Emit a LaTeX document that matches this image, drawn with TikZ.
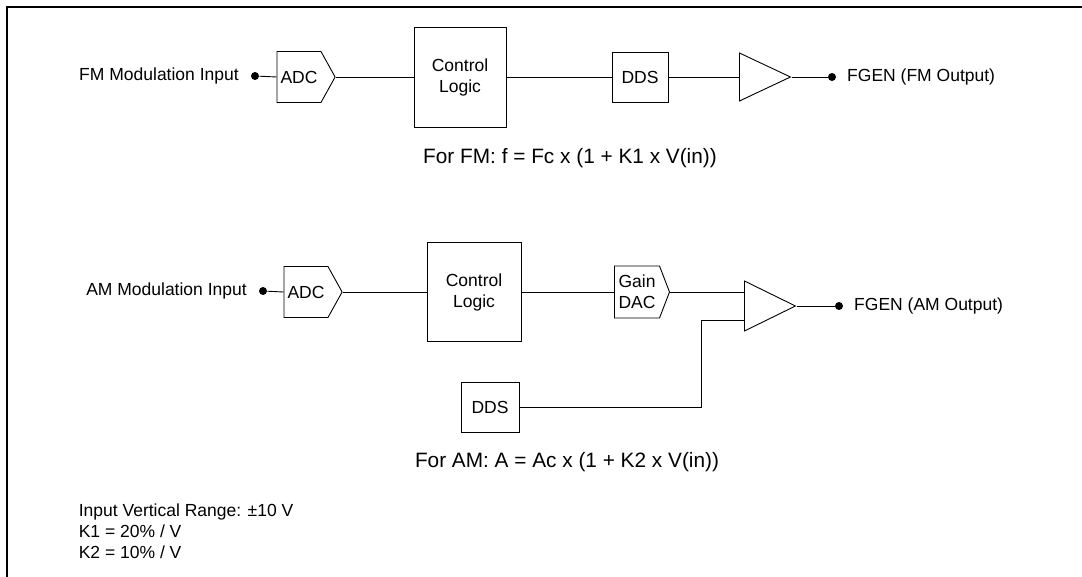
\documentclass[tikz,border=0pt]{standalone}
\usepackage{fontspec}
\setmainfont{Liberation Sans}
\usetikzlibrary{positioning, shapes.geometric, shapes.symbols}

\begin{document}
\begin{tikzpicture}[x=1pt, y=-1pt, line width=0.9pt,
    every node/.style={font=\fontsize{17.5}{21}\selectfont},
    blk/.style={draw, inner sep=0pt},
    conv/.style={draw, signal, signal to=east, inner xsep=3.5pt, inner ysep=2pt, minimum height=51pt, minimum width=54pt, signal pointer angle=122},
    amp/.style={draw, isosceles triangle, isosceles triangle stretches, inner sep=0pt, minimum width=48pt, minimum height=51pt, anchor=west},
    dot/.style={circle, fill, inner sep=0pt, minimum size=8pt},
    formula/.style={font=\fontsize{20.8}{24}\selectfont}]
    \useasboundingbox (0,0) rectangle (1082,577);

    % Cornice
    \draw[line width=2.5pt] (7,577) -- (7,7) -- (1082,7);

    % FM
    \node[dot] (fmin) at (255,76) {};
    \node[left=8pt of fmin] (fmlabel) {FM Modulation Input};
    \node[conv] (adc1) at (299,77) {ADC};
    \node[blk, minimum width=92pt, minimum height=100pt, align=center] (ctl1) at (460,77) {Control\\Logic};
    \node[blk, minimum width=56pt, minimum height=50pt] (dds1) at (640,77) {DDS};
    \node[amp] (amp1) at (739,77) {};
    \node[dot] (fmout) at (832,77) {};
    \node[right=7pt of fmout] (fmoutlabel) {FGEN (FM Output)};
    \node[formula] (fmeq) at (570,158) {For FM: f = Fc x (1 + K1 x V(in))};

    \draw (fmin) -- (adc1.west);
    \draw (adc1.east) -- (ctl1.west);
    \draw (ctl1.east) -- (dds1.west);
    \draw (dds1.east) -- (amp1.west);
    \draw (amp1.apex) -- (fmout);

    % AM
    \node[dot] (amin) at (263,291) {};
    \node[left=8pt of amin] (amlabel) {AM Modulation Input};
    \node[conv, minimum width=56pt] (adc2) at (306,292) {ADC};
    \node[blk, minimum width=94pt, minimum height=99pt, align=center] (ctl2) at (474,292) {Control\\Logic};
    \node[conv, minimum width=55pt, minimum height=52pt, signal pointer angle=138, inner sep=1pt, align=center] (dac) at (637,292) {Gain\\DAC};
    \node[amp, minimum width=50pt] (amp2) at (744,306) {};
    \node[dot] (amout) at (839,306) {};
    \node[right=7pt of amout] (amoutlabel) {FGEN (AM Output)};
    \node[blk, minimum width=58pt, minimum height=50pt] (dds2) at (490,407) {DDS};
    \node[formula] (ameq) at (567,462) {For AM: A = Ac x (1 + K2 x V(in))};

    \draw (amin) -- (adc2.west);
    \draw (adc2.east) -- (ctl2.west);
    \draw (ctl2.east) -- (dac.west);
    \draw (dac.east) -- (dac.east -| amp2.west);
    \draw ([yshift=-14pt]amp2.west) -- ++(-43,0) |- (dds2.east);
    \draw (amp2.apex) -- (amout);

    % Note
    \node[anchor=west, align=left] (note) at (75,531) {Input Vertical Range: ±10 V\\K1 = 20\% / V\\K2 = 10\% / V};
\end{tikzpicture}
\end{document}
